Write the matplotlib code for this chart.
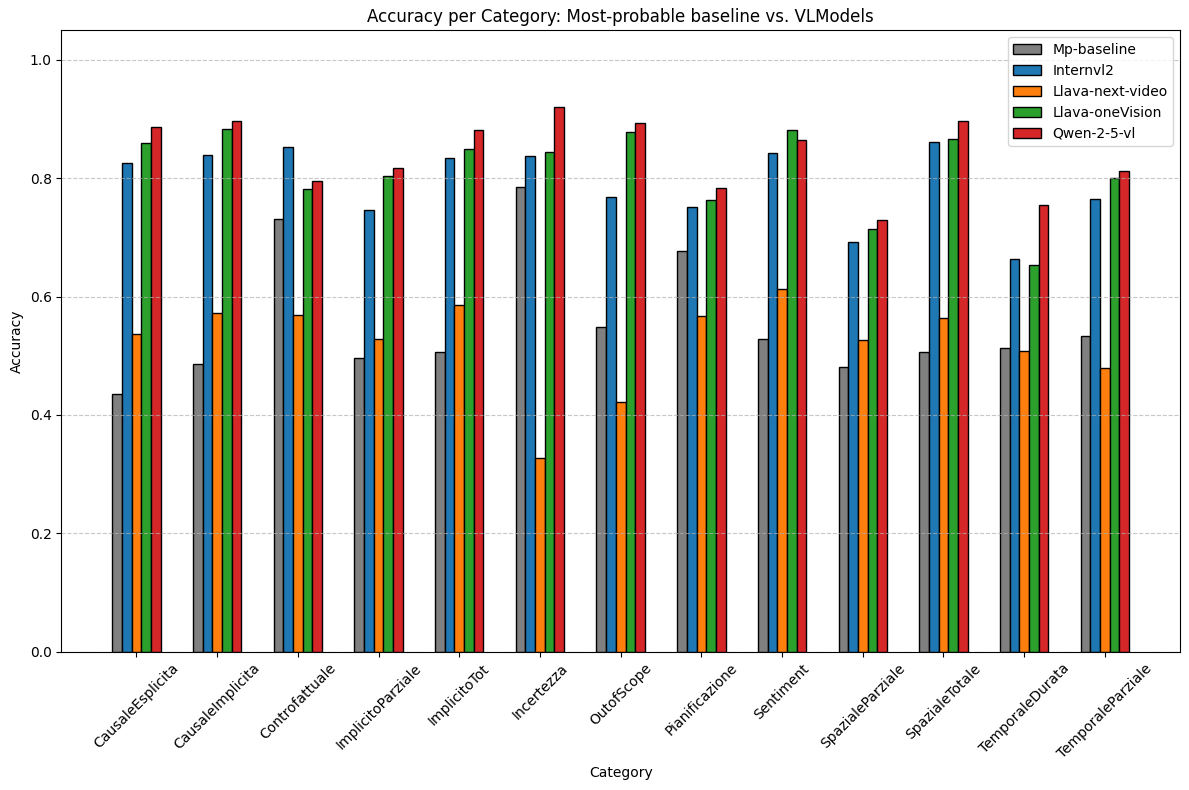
import numpy as np
import matplotlib
matplotlib.use("Agg")
import matplotlib.pyplot as plt

categories = ['CausaleEsplicita', 'CausaleImplicita', 'Controfattuale', 'ImplicitoParziale',
              'ImplicitoTot', 'Incertezza', 'OutofScope', 'Pianificazione', 'Sentiment',
              'SpazialeParziale', 'SpazialeTotale', 'TemporaleDurata', 'TemporaleParziale']

mp_baseline = [0.435, 0.486, 0.731, 0.496, 0.507, 0.786, 0.548, 0.677, 0.528, 0.481, 0.506, 0.513, 0.533]
internvl2 = [0.825, 0.840, 0.852, 0.746, 0.834, 0.837, 0.769, 0.751, 0.843, 0.692, 0.861, 0.663, 0.765]
llava_next_video = [0.537, 0.573, 0.568, 0.528, 0.586, 0.327, 0.421, 0.567, 0.612, 0.526, 0.563, 0.508, 0.479]
llava_onevision = [0.859, 0.883, 0.781, 0.803, 0.849, 0.845, 0.878, 0.763, 0.881, 0.714, 0.867, 0.653, 0.800]
qwen_2_5_vl = [0.886, 0.896, 0.796, 0.818, 0.881, 0.920, 0.894, 0.783, 0.864, 0.729, 0.896, 0.754, 0.812]

series = [
    ('Mp-baseline', mp_baseline, 'gray'),
    ('Internvl2', internvl2, 'tab:blue'),
    ('Llava-next-video', llava_next_video, 'tab:orange'),
    ('Llava-oneVision', llava_onevision, 'tab:green'),
    ('Qwen-2-5-vl', qwen_2_5_vl, 'tab:red'),
]

x = np.arange(len(categories))
width = 0.12

fig, ax = plt.subplots(figsize=(11.89, 7.9), dpi=100)
for i, (name, vals, col) in enumerate(series):
    ax.bar(x + (i - 2) * width, vals, width, label=name, color=col, edgecolor='black')

ax.set_xticks(x)
ax.set_xticklabels(categories, rotation=45)
ax.set_ylim(0, 1.05)
ax.set_xlabel('Category')
ax.set_ylabel('Accuracy')
ax.set_title('Accuracy per Category: Most-probable baseline vs. VLModels')
ax.grid(axis='y', linestyle='--', alpha=0.7)
ax.legend(loc='upper right')
fig.subplots_adjust(left=0.0516, right=0.9924, top=0.9616, bottom=0.1753)
plt.savefig('out.png')
